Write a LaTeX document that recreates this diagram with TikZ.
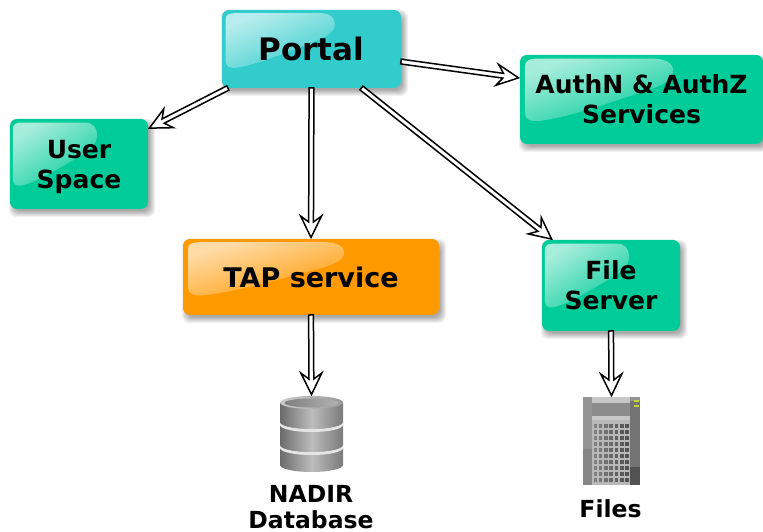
\documentclass[tikz,border=0pt]{standalone}
\usepackage{fontspec}
\setmainfont{DejaVu Sans}
\usetikzlibrary{fadings,backgrounds,calc}
\definecolor{portalc}{HTML}{33CCCC}
\definecolor{greenc}{HTML}{00CC99}
\definecolor{orangec}{HTML}{FF9900}
\definecolor{ledc}{HTML}{C4D62E}
\tikzfading[name=glossfade,top color=transparent!35,bottom color=transparent!94]
% body of a box: soft shadow, fill and gloss, below the node's text
\newcommand{\boxbody}[4]{%
  \begin{pgfonlayer}{background}
  \foreach \w in {4,3,2,1,0,-1,-2}{
    \fill[black,opacity=.055,rounded corners=7pt]
      ($(#1.south west)+(3-\w,-4-\w)$) rectangle ($(#1.north east)+(3+\w,-4+\w)$);
  }
  \fill[#2,rounded corners=7pt] (#1.south west) rectangle (#1.north east);
  \begin{scope}[shift={(#1.north west)},x=#3 pt,y=#4 pt]
    \fill[white,path fading=glossfade,fading angle=40]
      (0.02,-.12) .. controls (.02,-.06) and (.04,-.04) .. (.08,-.04)
      -- (.54,-.04) .. controls (.60,-.04) and (.63,-.09) .. (.63,-.18)
      .. controls (.63,-.29) and (.58,-.35) .. (.5,-.42)
      .. controls (.35,-.55) and (.2,-.7) .. (.08,-.74)
      .. controls (.04,-.75) and (.02,-.72) .. (.02,-.65) -- cycle;
  \end{scope}
  \end{pgfonlayer}}
\tikzset{
  x=1pt,y=1pt,
  glossbox/.style n args={2}{
    rectangle,minimum width=#1 pt,minimum height=#2 pt,
    inner sep=0pt,outer sep=0pt,align=center,font=\fontsize{25}{30}\selectfont\bfseries},
  hollowarrow/.style={
    draw=black,fill=white,line width=1.5pt,line join=miter,miter limit=6,
    to path={
      let \p1=(\tikztostart),\p2=(\tikztotarget),
          \n1={atan2(\y2-\y1,\x2-\x1)},\n2={veclen(\x2-\x1,\y2-\y1)} in
      ([shift={(\tikztostart)},rotate=\n1] 0,2.4)
      -- ([shift={(\tikztostart)},rotate=\n1] \n2-17,2.4)
      -- ([shift={(\tikztostart)},rotate=\n1] \n2-23,10.5)
      -- ([shift={(\tikztostart)},rotate=\n1] \n2-1.5,0)
      -- ([shift={(\tikztostart)},rotate=\n1] \n2-23,-10.5)
      -- ([shift={(\tikztostart)},rotate=\n1] \n2-17,-2.4)
      -- ([shift={(\tikztostart)},rotate=\n1] 0,-2.4)
      -- cycle}},
  caption/.style={align=center,inner sep=0pt,font=\fontsize{23.5}{25.5}\selectfont\bfseries},
  iconbox/.style n args={2}{minimum width=#1 pt,minimum height=#2 pt,inner sep=0pt,outer sep=0pt}
}
\begin{document}
\begin{tikzpicture}
\useasboundingbox (0,0) rectangle (763,532);
\begin{pgfonlayer}{background}\fill[white] (0,0) rectangle (763,532);\end{pgfonlayer}

\node[glossbox={179}{78},font=\fontsize{31}{36}\selectfont\bfseries] (portal) at (311.5,483) {Portal};
\node[glossbox={243}{89}] (auth) at (641.5,432.5) {AuthN \& AuthZ\\Services};
\node[glossbox={138}{90}] (user) at (79,368) {\rule{0pt}{24.2pt}User\\Space};
\node[glossbox={256}{76},font=\fontsize{27}{32}\selectfont\bfseries] (tap) at (311,255) {TAP service};
\node[glossbox={138}{91}] (file) at (611,246.5) {File\\Server};

\boxbody{portal}{portalc}{179}{78}
\boxbody{auth}{greenc}{243}{89}
\boxbody{user}{greenc}{138}{90}
\boxbody{tap}{orangec}{256}{76}
\boxbody{file}{greenc}{138}{91}

% database icon
\node[iconbox={63}{76}] (db) at (311.5,98) {};
\begin{scope}[shift={(db.south west)}]
  \tikzset{dbbody/.style={left color=black!58,right color=black!52,middle color=black!26}}
  \path[dbbody] (0,24) -- (0,7) arc[x radius=31.5,y radius=7,start angle=180,end angle=360] -- (63,24) -- cycle;
  \fill[black!10] (0,24) arc[x radius=31.5,y radius=7,start angle=180,end angle=360] -- (63,27) arc[x radius=31.5,y radius=7,start angle=360,end angle=180] -- cycle;
  \path[dbbody] (0,47) -- (0,27) arc[x radius=31.5,y radius=7,start angle=180,end angle=360] -- (63,47) -- cycle;
  \fill[black!10] (0,47) arc[x radius=31.5,y radius=7,start angle=180,end angle=360] -- (63,50) arc[x radius=31.5,y radius=7,start angle=360,end angle=180] -- cycle;
  \path[dbbody] (0,69) -- (0,50) arc[x radius=31.5,y radius=7,start angle=180,end angle=360] -- (63,69) -- cycle;
  \path[left color=black!20,right color=black!40] (31.5,69.5) ellipse[x radius=31.5,y radius=6.5];
  \path[left color=black!50,right color=black!30] (31.5,69) ellipse[x radius=27,y radius=4.5];
\end{scope}

% server icon
\node[iconbox={57}{88}] (srv) at (611.5,91) {};
\begin{scope}[shift={(srv.south west)}]
  \fill[black!42] (0,0) rectangle (57,88);
  \fill[black!48] (0,0) rectangle (9,36);
  \fill[black!22] (9,82) rectangle (47,88);
  \fill[black!45] (9,69) rectangle (47,82);
  \fill[black!22] (9,65) rectangle (47,69);
  \fill[black!55] (47,0) rectangle (57,84);
  \fill[black!68] (47,0) rectangle (57,18);
  \fill[black!28] (9,0) rectangle (47,65);
  \foreach \c in {0,...,6}{
    \foreach \r in {0,...,9}{
      \fill[black!\the\numexpr 50+\c*3\relax] (10.5+\c*5.3,2.5+\r*6.05) rectangle ++(3.6,4.1);
    }
  }
  \fill[ledc] (50.5,83) rectangle (56,85);
  \fill[ledc] (50.5,77.5) rectangle (56,80);
\end{scope}

\node[caption] (dblabel) at (311,25) {NADIR\\Database};
\node[caption] (srvlabel) at (610.5,23) {Files};

\draw[hollowarrow] (portal.-8.3) to (auth.170.9);
\draw[hollowarrow] (portal.205.8) to (user.27.6);
\draw[hollowarrow] (portal.south) to (tap.north);
\draw[hollowarrow] (portal.-38.2) to (file.142.4);
\draw[hollowarrow] (tap.south) to (db.north);
\draw[hollowarrow] (file.south) to (srv.north);
\end{tikzpicture}
\end{document}
